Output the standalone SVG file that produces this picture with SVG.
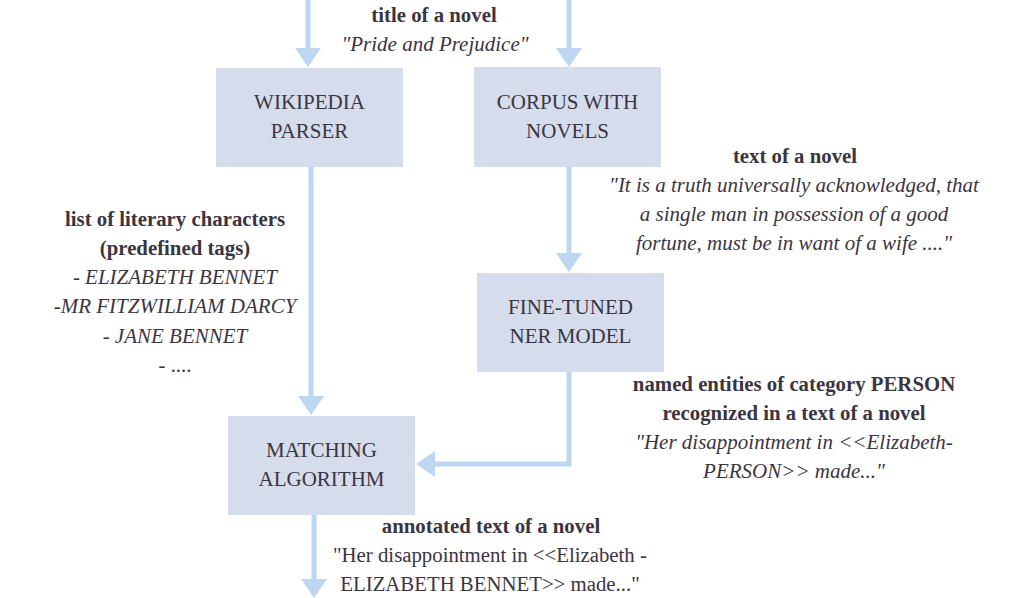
<svg xmlns="http://www.w3.org/2000/svg" width="1024" height="598" viewBox="0 0 1024 598">
<defs>
<marker id="ah" markerUnits="userSpaceOnUse" markerWidth="20" markerHeight="28" viewBox="0 -14 20 28" refX="0" refY="0" orient="auto" overflow="visible">
<path d="M0,-13 L19,0 L0,13 Z" fill="#BDD7F2"/>
</marker>
<style>
.box{fill:#D5DCEB;}
.bl{font-family:"Liberation Serif","Times New Roman",serif;font-size:21px;fill:#3B3541;text-anchor:middle;}
.lb{font-family:"Liberation Serif","Times New Roman",serif;font-size:20.8px;fill:#3B3541;text-anchor:middle;}
.b{font-weight:bold;}
.i{font-style:italic;font-size:21px;}
.c{fill:none;stroke:#BDD7F2;stroke-width:5;marker-end:url(#ah);}
</style>
</defs>
<rect width="1024" height="598" fill="#FFFFFF"/>
<g id="connectors">
<path class="c" d="M308,0 V48"/>
<path class="c" d="M569,0 V48"/>
<path class="c" d="M569,167 V253"/>
<path class="c" d="M311,167 V396"/>
<path class="c" d="M569,372 V464 H435"/>
<path class="c" d="M314,515 V579"/>
</g>
<g id="wikipedia-parser">
<rect class="box" x="216" y="68" width="187" height="99"/>
<text class="bl" x="309.5" y="109">WIKIPEDIA</text>
<text class="bl" x="309.5" y="138">PARSER</text>
</g>
<g id="corpus-with-novels">
<rect class="box" x="474" y="67" width="187" height="100"/>
<text class="bl" x="567.5" y="109">CORPUS WITH</text>
<text class="bl" x="567.5" y="138">NOVELS</text>
</g>
<g id="fine-tuned-ner-model">
<rect class="box" x="477" y="273" width="187" height="99"/>
<text class="bl" x="570.5" y="314">FINE-TUNED</text>
<text class="bl" x="570.5" y="343">NER MODEL</text>
</g>
<g id="matching-algorithm">
<rect class="box" x="228" y="416" width="187" height="99"/>
<text class="bl" x="321.5" y="457">MATCHING</text>
<text class="bl" x="321.5" y="486">ALGORITHM</text>
</g>
<g id="label-title">
<text class="lb b" x="434" y="22">title of a novel</text>
<text class="lb i" x="435" y="51">"Pride and Prejudice"</text>
</g>
<g id="label-characters">
<text class="lb b" x="175" y="226">list of literary characters</text>
<text class="lb b" x="175" y="255">(predefined tags)</text>
<text class="lb" x="175" y="284">- <tspan class="i">ELIZABETH BENNET</tspan></text>
<text class="lb i" x="175" y="313">-MR FITZWILLIAM DARCY</text>
<text class="lb" x="175" y="343">- <tspan class="i">JANE BENNET</tspan></text>
<text class="lb" x="175" y="372">- ....</text>
</g>
<g id="label-text">
<text class="lb b" x="795" y="163">text of a novel</text>
<text class="lb i" x="794" y="192">"It is a truth universally acknowledged, that</text>
<text class="lb i" x="794" y="221">a single man in possession of a good</text>
<text class="lb i" x="794" y="250">fortune, must be in want of a wife ...."</text>
</g>
<g id="label-entities">
<text class="lb b" x="794" y="391">named entities of category PERSON</text>
<text class="lb b" x="794" y="420">recognized in a text of a novel</text>
<text class="lb i" x="794" y="449">"Her disappointment in &lt;&lt;Elizabeth-</text>
<text class="lb i" x="794" y="478">PERSON&gt;&gt; made..."</text>
</g>
<g id="label-annotated">
<text class="lb b" x="491" y="533">annotated text of a novel</text>
<text class="lb" x="490" y="562">"Her disappointment in &lt;&lt;Elizabeth -</text>
<text class="lb" x="490" y="591">ELIZABETH BENNET&gt;&gt; made..."</text>
</g>
</svg>
